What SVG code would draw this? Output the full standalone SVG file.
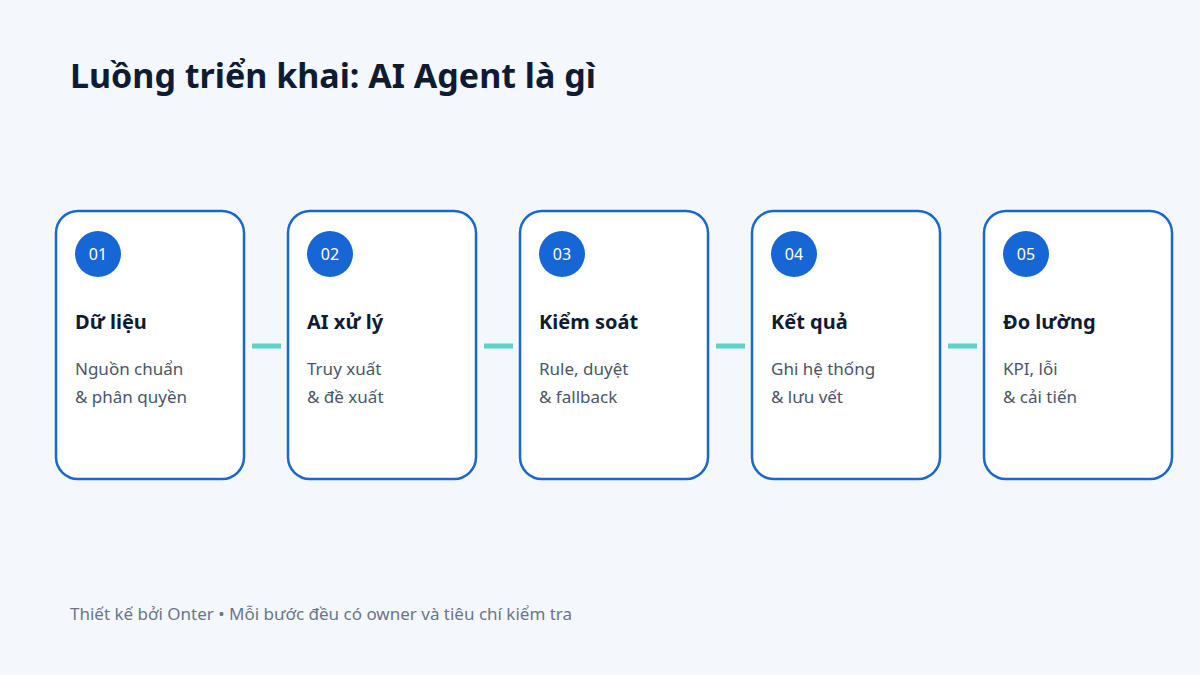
<svg xmlns="http://www.w3.org/2000/svg" width="1200" height="675" viewBox="0 0 1200 675">
<style>
.bg{fill:#f4f8fc}
.card{fill:#ffffff;stroke:#1a68cc;stroke-width:2.5}
.badge{fill:#1766d6}
.num{font-family:"Noto Sans","Open Sans",sans-serif;font-size:16px;fill:#ffffff;text-anchor:middle}
.title{font-family:"Noto Sans","Open Sans",sans-serif;font-size:34px;font-weight:bold;fill:#0f1b33}
.head{font-family:"Noto Sans","Open Sans",sans-serif;font-size:20px;font-weight:bold;fill:#0f1b33}
.body{font-family:"Noto Sans","Open Sans",sans-serif;font-size:17px;fill:#4b5568}
.foot{font-family:"Noto Sans","Open Sans",sans-serif;font-size:17px;fill:#6b7589}
.conn{stroke:#5dd3c8;stroke-width:5;fill:none}
</style>
<rect class="bg" x="0" y="0" width="1200" height="675"/>
<text class="title" x="70" y="88">Luồng triển khai: AI Agent là gì</text>
<g id="connectors">
<line class="conn" x1="252" y1="346" x2="281" y2="346"/>
<line class="conn" x1="484" y1="346" x2="513" y2="346"/>
<line class="conn" x1="716" y1="346" x2="745" y2="346"/>
<line class="conn" x1="948" y1="346" x2="977" y2="346"/>
</g>
<g id="node1">
<rect class="card" x="56" y="211" width="188" height="268" rx="22"/>
<circle class="badge" cx="98" cy="254" r="23"/>
<text class="num" x="98" y="260">01</text>
<text class="head" x="75" y="329">Dữ liệu</text>
<text class="body" x="75" y="375">Nguồn chuẩn</text>
<text class="body" x="75" y="403">&amp; phân quyền</text>
</g>
<g id="node2">
<rect class="card" x="288" y="211" width="188" height="268" rx="22"/>
<circle class="badge" cx="330" cy="254" r="23"/>
<text class="num" x="330" y="260">02</text>
<text class="head" x="307" y="329">AI xử lý</text>
<text class="body" x="307" y="375">Truy xuất</text>
<text class="body" x="307" y="403">&amp; đề xuất</text>
</g>
<g id="node3">
<rect class="card" x="520" y="211" width="188" height="268" rx="22"/>
<circle class="badge" cx="562" cy="254" r="23"/>
<text class="num" x="562" y="260">03</text>
<text class="head" x="539" y="329">Kiểm soát</text>
<text class="body" x="539" y="375">Rule, duyệt</text>
<text class="body" x="539" y="403">&amp; fallback</text>
</g>
<g id="node4">
<rect class="card" x="752" y="211" width="188" height="268" rx="22"/>
<circle class="badge" cx="794" cy="254" r="23"/>
<text class="num" x="794" y="260">04</text>
<text class="head" x="771" y="329">Kết quả</text>
<text class="body" x="771" y="375">Ghi hệ thống</text>
<text class="body" x="771" y="403">&amp; lưu vết</text>
</g>
<g id="node5">
<rect class="card" x="984" y="211" width="188" height="268" rx="22"/>
<circle class="badge" cx="1026" cy="254" r="23"/>
<text class="num" x="1026" y="260">05</text>
<text class="head" x="1003" y="329">Đo lường</text>
<text class="body" x="1003" y="375">KPI, lỗi</text>
<text class="body" x="1003" y="403">&amp; cải tiến</text>
</g>
<text class="foot" x="70" y="620">Thiết kế bởi Onter • Mỗi bước đều có owner và tiêu chí kiểm tra</text>
</svg>
